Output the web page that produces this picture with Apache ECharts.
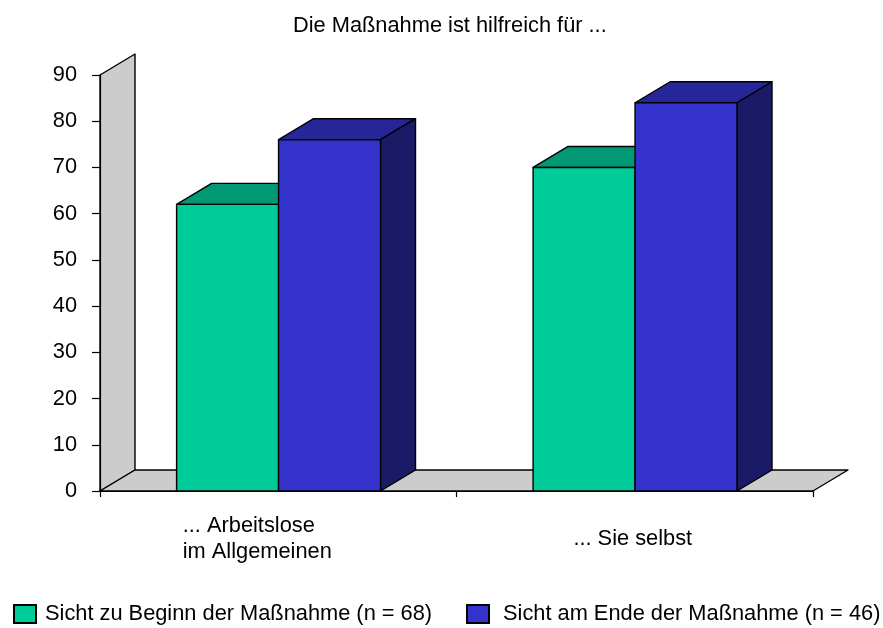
<!DOCTYPE html>
<html>
<head>
<meta charset="utf-8">
<style>
  html, body { margin: 0; padding: 0; background: #fff; }
  #chart { width: 883px; height: 628px; }
</style>
<script src="https://cdn.jsdelivr.net/npm/echarts@6/dist/echarts.min.js"></script>
</head>
<body>
<div id="chart"></div>
<script>
const categories = ["... Arbeitslose\nim Allgemeinen", "... Sie selbst"];
const sichtBeginn = [62, 70];
const sichtEnde = [76, 84];
const nameBeginn = "Sicht zu Beginn der Maßnahme (n = 68)";
const nameEnde = "Sicht am Ende der Maßnahme (n = 46)";

const FONT = '"Liberation Sans", Arial, sans-serif';
const FONT_SIZE = 21.8;
const DEPTH_X = 35;
const DEPTH_Y = -21;
const BAR_RATIO = 0.286;

const shape = (points, fill) => ({
  type: "polygon",
  shape: { points },
  style: { fill, stroke: "#000", lineWidth: 1.4, lineJoin: "round" },
});

// one 3D block: front, top and right side
const renderBar = (seriesPos, colors) => (params, api) => {
  const top = api.coord([api.value(0), api.value(1)]);
  const base = api.coord([api.value(0), 0]);
  const w = api.size([1, 0])[0] * BAR_RATIO;
  const x0 = top[0] + 0.3 + seriesPos * w;
  const x1 = x0 + w;
  return {
    type: "group",
    children: [
      shape([[x0, top[1]], [x1, top[1]], [x1 + DEPTH_X, top[1] + DEPTH_Y], [x0 + DEPTH_X, top[1] + DEPTH_Y]], colors.top),
      shape([[x1, top[1]], [x1 + DEPTH_X, top[1] + DEPTH_Y], [x1 + DEPTH_X, base[1] + DEPTH_Y], [x1, base[1]]], colors.side),
      shape([[x0, top[1]], [x1, top[1]], [x1, base[1]], [x0, base[1]]], colors.front),
    ],
  };
};

// grey back wall and floor of the 3D box
const renderBox = (params) => {
  const { x, y, width, height } = params.coordSys;
  const b = y + height;
  return {
    type: "group",
    children: [
      shape([[x, y], [x + DEPTH_X, y + DEPTH_Y], [x + DEPTH_X, b + DEPTH_Y], [x, b]], "#cccccc"),
      shape([[x, b], [x + DEPTH_X, b + DEPTH_Y], [x + width + DEPTH_X, b + DEPTH_Y], [x + width, b]], "#cccccc"),
    ],
  };
};

const legendBase = {
  top: 603,
  padding: 0,
  itemWidth: 22,
  itemHeight: 18,
  icon: "rect",
};

const labelStyle = { fontFamily: FONT, fontSize: FONT_SIZE, lineHeight: 26, color: "#000", align: "left" };

const option = {
  animation: false,
  textStyle: { fontFamily: FONT },
  title: {
    text: "Die Maßnahme ist hilfreich für ...",
    left: 293,
    top: 14.5,
    padding: 0,
    textStyle: { fontFamily: FONT, fontSize: FONT_SIZE, fontWeight: "normal", color: "#000" },
  },
  grid: { left: 100, right: 70, top: 75, bottom: 137 },
  legend: [
    {
      ...legendBase,
      left: 13,
      data: [nameBeginn],
      textStyle: { fontFamily: FONT, fontSize: FONT_SIZE, color: "#000", padding: [9, 0, 0, 4] },
    },
    {
      ...legendBase,
      left: 466,
      data: [nameEnde],
      textStyle: { fontFamily: FONT, fontSize: FONT_SIZE, color: "#000", padding: [9, 0, 0, 9] },
    },
  ],
  xAxis: {
    type: "category",
    data: categories,
    z: 5,
    axisLine: { lineStyle: { color: "#000", width: 1.2 } },
    axisTick: { show: true, length: 6, alignWithLabel: false, lineStyle: { color: "#000", width: 1.2 } },
    axisLabel: {
      interval: 0,
      margin: 48,
      verticalAlign: "middle",
      lineHeight: 26,
      fontFamily: FONT,
      fontSize: FONT_SIZE,
      color: "#000",
      formatter: (value, index) => value.split("\n").map((line) => `{a${index}|${line}}`).join("\n"),
      rich: {
        // the labels do not sit on the middle of their category
        a0: { ...labelStyle, padding: [0, 42, 0, 0] },
        a1: { ...labelStyle, padding: [0, 4, 0, 0] },
      },
    },
  },
  yAxis: {
    type: "value",
    min: 0,
    max: 90,
    interval: 10,
    z: 5,
    axisLine: { show: true, lineStyle: { color: "#000", width: 1.2 } },
    axisTick: { show: true, length: 8, lineStyle: { color: "#000", width: 1.2 } },
    axisLabel: { margin: 23, fontFamily: FONT, fontSize: FONT_SIZE, color: "#000" },
    splitLine: { show: false },
  },
  series: [
    {
      name: "box",
      type: "custom",
      z: 1,
      silent: true,
      renderItem: renderBox,
      data: [[0, 0]],
    },
    {
      name: nameBeginn,
      type: "custom",
      z: 2,
      itemStyle: { color: "#00cc99", borderColor: "#000", borderWidth: 1.4 },
      renderItem: renderBar(-1, { front: "#00cc99", top: "#009973", side: "#006b50" }),
      encode: { x: 0, y: 1 },
      data: sichtBeginn.map((v, i) => [i, v]),
    },
    {
      name: nameEnde,
      type: "custom",
      z: 3,
      itemStyle: { color: "#3333cc", borderColor: "#000", borderWidth: 1.4 },
      renderItem: renderBar(0, { front: "#3333cc", top: "#262699", side: "#1a1a66" }),
      encode: { x: 0, y: 1 },
      data: sichtEnde.map((v, i) => [i, v]),
    },
  ],
};

const chart = echarts.init(document.getElementById("chart"));
chart.setOption(option);
</script>
</body>
</html>
